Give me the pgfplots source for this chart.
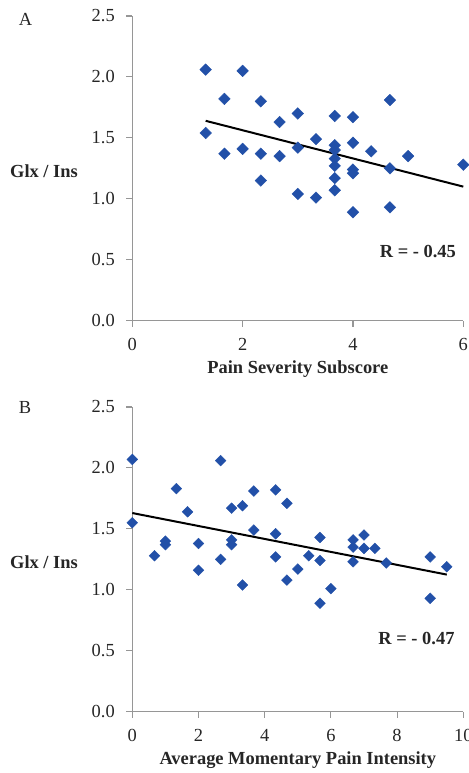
\documentclass[border=0pt]{standalone}
\usepackage{pgfplots}
\pgfplotsset{compat=1.18}
\usepackage{fontspec}
\setmainfont{Liberation Serif}
\definecolor{mk}{RGB}{34,80,168}
\definecolor{axc}{RGB}{150,150,150}
\newcommand{\fs}{\fontsize{18.5}{21}\selectfont}
\pgfplotsset{
  myax/.style={
    scale only axis,
    clip=false,
    axis x line*=bottom, axis y line*=left,
    axis line style={axc, line width=1.1bp},
    tick style={axc, line width=1.1bp},
    tick align=outside,
    major tick length=6bp,
    ymin=0, ymax=2.5, ytick={0,0.5,1,1.5,2,2.5},
    /pgf/number format/assume math mode=true,
    yticklabel={\pgfmathprintnumber[fixed,fixed zerofill,precision=1]{\tick}},
    tick label style={font=\fs, text=black!85},
    yticklabel style={xshift=-8bp},
    xticklabel style={yshift=-8bp},
    every axis x label/.style={at={(rel axis cs:0.5,0)}, anchor=center, yshift=-48bp, font=\fs\bfseries, text=black!85},
    width=331bp, height=304.7bp,
  }
}
\begin{document}
\begin{tikzpicture}
\path[use as bounding box] (0,0) rectangle (469bp,773bp);
% Panel A
\begin{axis}[myax, at={(132.3bp,452.3bp)}, anchor=south west,
  xmin=0, xmax=6, xtick={0,2,4,6}, xlabel={Pain Severity Subscore}]
\addplot[only marks, mark=square*, mark size=4.1bp, mark options={rotate=45, fill=mk, draw=mk, line width=0.4bp}] coordinates {
(1.33,2.06)(2.0,2.05)(1.67,1.82)(2.33,1.80)(2.67,1.63)(3.0,1.70)(3.67,1.68)(4.0,1.67)(4.67,1.81)
(1.33,1.54)(1.67,1.37)(2.0,1.41)(2.33,1.37)(2.67,1.35)(3.0,1.42)(3.33,1.49)
(3.67,1.44)(3.67,1.40)(3.67,1.33)(3.67,1.27)(3.67,1.17)(3.67,1.07)
(4.0,1.46)(4.0,1.24)(4.0,1.21)(4.0,0.89)(4.33,1.39)(4.67,1.25)(5.0,1.35)(6.0,1.28)
(4.67,0.93)(2.33,1.15)(3.0,1.04)(3.33,1.01)
};
\addplot[black, line width=2bp] coordinates {(1.33,1.64)(6,1.10)};
\node[anchor=east, font=\fs\bfseries, text=black!85] at (axis cs:5.93,0.57) {R = - 0.45};
\node[anchor=east, font=\fs\bfseries, text=black!85] at (rel axis cs:0,0.49) [xshift=-51bp] {Glx / Ins};
\node[anchor=west, font=\fs, text=black!85] at (rel axis cs:0,1) [xshift=-117bp, yshift=-3bp] {A};
\end{axis}
% Panel B
\begin{axis}[myax, at={(132.3bp,61.3bp)}, anchor=south west,
  xmin=0, xmax=10, xtick={0,2,4,6,8,10}, xlabel={Average Momentary Pain Intensity}]
\addplot[only marks, mark=square*, mark size=3.8bp, mark options={rotate=45, fill=mk, draw=mk, line width=0.4bp}] coordinates {
(0,2.07)(0,1.55)(0.67,1.28)(1.0,1.40)(1.0,1.37)(1.33,1.83)(1.67,1.64)(2.0,1.38)(2.0,1.16)
(2.67,2.06)(2.67,1.25)(3.0,1.67)(3.0,1.41)(3.0,1.37)(3.33,1.69)(3.33,1.04)(3.67,1.81)(3.67,1.49)
(4.33,1.82)(4.33,1.46)(4.33,1.27)(4.67,1.71)(4.67,1.08)(5.0,1.17)(5.33,1.28)
(5.67,1.43)(5.67,1.24)(5.67,0.89)(6.0,1.01)(6.67,1.41)(6.67,1.35)(6.67,1.23)
(7.0,1.45)(7.0,1.34)(7.33,1.34)(7.67,1.22)(9.0,1.27)(9.0,0.93)(9.5,1.19)
};
\addplot[black, line width=2bp] coordinates {(0,1.63)(9.5,1.125)};
\node[anchor=east, font=\fs\bfseries, text=black!85] at (axis cs:9.84,0.60) {R = - 0.47};
\node[anchor=east, font=\fs\bfseries, text=black!85] at (rel axis cs:0,0.49) [xshift=-51bp] {Glx / Ins};
\node[anchor=west, font=\fs, text=black!85] at (rel axis cs:0,1) [xshift=-117bp, yshift=0bp] {B};
\end{axis}
\end{tikzpicture}
\end{document}
